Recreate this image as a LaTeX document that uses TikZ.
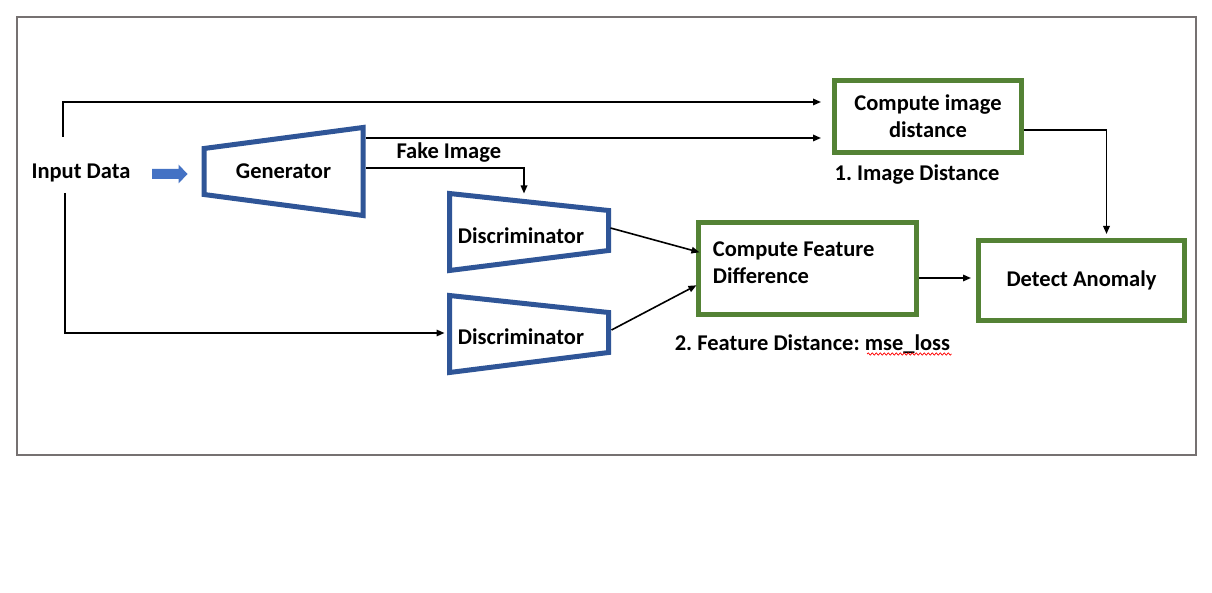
\documentclass[tikz,border=0pt]{standalone}
\usepackage{fontspec}
\setmainfont{Carlito}
\usepackage{xcolor}
\usetikzlibrary{arrows.meta,positioning,calc,decorations.pathmorphing}

\definecolor{ganblue}{HTML}{2F5597}
\definecolor{boxgreen}{HTML}{548235}
\definecolor{feedblue}{HTML}{4472C4}
\definecolor{framegray}{HTML}{767171}

\frenchspacing

\begin{document}
\begin{tikzpicture}[
    x=1pt, y=-1pt,
    font=\fontsize{22.5}{27}\selectfont\bfseries,
    net/.style={rectangle, minimum width=159pt, inner sep=0pt, outer sep=0pt},
    trap/.style={draw=ganblue, line width=5pt, line join=miter},
    stage/.style={rectangle, draw=boxgreen, line width=5pt, align=center},
    arrow/.style={-{Triangle[length=8pt,width=6.5pt]}, line width=1.6pt},
    squiggle/.style={draw=red, line width=0.7pt, decorate, decoration={snake, amplitude=1.1pt, segment length=4pt}}
]

% Page and frame
\fill[white] (0,0) rectangle (1212,593);
\useasboundingbox (0,0) rectangle (1212,593);
\draw[framegray, line width=2.5pt] (17,17) rectangle (1196,455);

% Input
\node (input) at (81,172.5) {Input Data};
\coordinate (feed) at (152,174);
\fill[feedblue] ($(feed)+(0,-5)$) -- ++(26.5,0) -- ++(0,-4.5) -- ++(9,9.5) -- ++(-9,9.5) -- ++(0,-4.5) -- ++(-26.5,0) -- cycle;

% GAN parts
\node[net, minimum height=88pt] (gen) at (283.5,171.5) {Generator};
\draw[trap] (gen.north east) -- (gen.south east) -- ($(gen.south west)+(0,-21)$) -- ($(gen.north west)+(0,21)$) -- cycle;

\node[net, minimum height=77pt, label={[xshift=-8pt, yshift=-4pt]center:Discriminator}] (dA) at (529,232) {};
\draw[trap] (dA.north west) -- ($(dA.north east)+(0,17)$) -- ($(dA.south east)+(0,-20)$) -- (dA.south west) -- cycle;

\node[net, minimum height=77pt, label={[xshift=-8pt, yshift=-3pt]center:Discriminator}] (dB) at (529,334) {};
\draw[trap] (dB.north west) -- ($(dB.north east)+(0,17)$) -- ($(dB.south east)+(0,-20)$) -- (dB.south west) -- cycle;

\node (fake) at (448.8,153) {Fake Image};

% Distances
\node[stage, minimum width=187pt, minimum height=72pt] (cimg) at (928,116.5) {Compute image\\distance};
\node[below of=cimg, node distance=58.5pt, xshift=-11pt] (imgdist) {1. Image Distance};

\node[stage, minimum width=217.5pt, minimum height=91.5pt, align=flush left, text width=189.5pt, inner xsep=14pt, text depth=38pt] (cfd) at (807.7,268.3) {Compute Feature\\Difference};
\node[below of=cfd, node distance=76pt, xshift=4.8pt] (featdist) {2. Feature Distance: mse\_loss};
\draw[squiggle] (867,354) -- (951.6,354);

% Output
\node[stage, minimum width=206pt, minimum height=80pt] (det) at (1081.5,280.5) {Detect Anomaly};

% Connections
\draw[arrow, shorten >=11pt] ($(input)+(-18,-35.5)$) |- (cimg.west |- 0,102);
\draw[arrow, shorten >=11pt] ($(gen.east |- 0,138)+(3,0)$) -- (cimg.west |- 0,138);
\draw[arrow] ($(gen.east |- 0,168)+(3,0)$) -| (dA.north -| 524,0);
\draw[arrow] ($(input)+(-16,20.5)$) |- ($(dB.west)+(-5,-1)$);
\draw[arrow] ($(dA.east)+(2,-4)$) -- ($(cfd.west)+(3,-16)$);
\draw[arrow] ($(dB.east)+(3,-4)$) -- ($(cfd.west)+(0,17)$);
\draw[arrow] (cimg.east |- 0,130) -| ($(det.north)+(25,-4)$);
\draw[arrow, shorten >=5pt] (cfd.east |- 0,278) -- (det.west |- 0,278);

\end{tikzpicture}
\end{document}
